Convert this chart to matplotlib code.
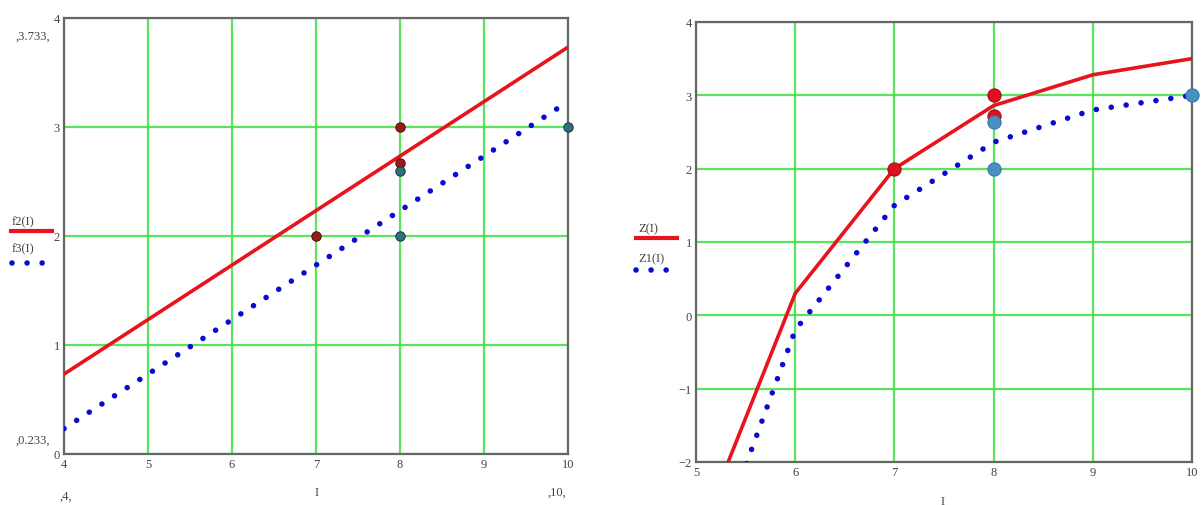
import matplotlib.pyplot as plt
from matplotlib.lines import Line2D

# --- left chart: f2(I), f3(I)
I_left = [4, 10]
f2 = [0.733, 3.733]
f3 = [0.233, 3.233]
red_pts_x = [7, 8, 8]
red_pts_y = [2, 3, 2.667]
teal_pts_x = [8, 8, 10]
teal_pts_y = [2.6, 2, 3]

# --- right chart: Z(I), Z1(I)
I_right = [5, 6, 7, 8, 9, 10]
Z = [-3.1, 0.3, 2.0, 2.86, 3.28, 3.5]
Z1 = [-3.9, -0.2, 1.5, 2.36, 2.8, 3.0]
zred_x = [7, 8, 8]
zred_y = [2, 3, 2.72]
zblue_x = [8, 8, 10]
zblue_y = [2.63, 2, 3]

plt.rcParams['font.family'] = ['Liberation Serif', 'DejaVu Serif']

grid_col = '#3ee03e'
red = '#e8141c'
blue = '#0a0ad2'
dots = (0, (0.01, 2.7))

fig = plt.figure(figsize=(12.03, 5.06), dpi=100)
ax1 = fig.add_axes([0.0532, 0.1008, 0.419, 0.8617])
ax2 = fig.add_axes([0.5786, 0.0850, 0.4123, 0.8696])


def style(ax, xlim, ylim, xticks, yticks):
    ax.set_xlim(*xlim)
    ax.set_ylim(*ylim)
    ax.set_xticks(xticks)
    ax.set_yticks(yticks)
    ax.grid(True, color=grid_col, lw=1.6, alpha=0.85)
    ax.set_axisbelow(True)
    ax.tick_params(length=0, labelsize=9, labelcolor='#444', pad=3)
    for s in ax.spines.values():
        s.set_color('#666')
        s.set_linewidth(1.6)


style(ax1, (4, 10), (0, 4), range(4, 11), range(0, 5))
ax1.plot(I_left, f2, color=red, lw=2.6, zorder=3)
ax1.plot(I_left, f3, color=blue, lw=4.0, linestyle=dots,
         dash_capstyle='round', zorder=3)
ax1.scatter(red_pts_x, red_pts_y, s=45, color='#9a1a1a', edgecolor='#5a1010',
            lw=0.8, zorder=4)
ax1.scatter(teal_pts_x, teal_pts_y, s=45, color='#2e6f80', edgecolor='#1a3d48',
            lw=0.8, zorder=4, clip_on=False)

style(ax2, (5, 10), (-2, 4), range(5, 11), range(-2, 5))
ax2.set_yticklabels(['\u22122', '\u22121', '0', '1', '2', '3', '4'])
ax2.plot(I_right, Z, color=red, lw=2.6, zorder=3)
ax2.plot(I_right, Z1, color=blue, lw=4.0, linestyle=dots,
         dash_capstyle='round', zorder=3)
ax2.scatter(zred_x, zred_y, s=90, color='#e01020', edgecolor='#a01018',
            lw=0.8, zorder=4)
ax2.scatter(zblue_x, zblue_y, s=90, color='#4a8fc4', edgecolor='#3a78a8',
            lw=0.8, zorder=4, clip_on=False)

# Mathcad style range labels and legends
txt = dict(fontsize=9, color='#444', transform=fig.transFigure)
fig.text(15 / 1203, 1 - 40 / 506, ',3.733,', **txt)
fig.text(15 / 1203, 1 - 444 / 506, ',0.233,', **txt)
fig.text(60 / 1203, 1 - 500 / 506, ',4,', **txt)
fig.text(315 / 1203, 1 - 496 / 506, 'I', **txt)
fig.text(547 / 1203, 1 - 496 / 506, ',10,', **txt)
fig.text(941 / 1203, 1 - 505 / 506, 'I', **txt)

fig.text(12 / 1203, 1 - 225 / 506, 'f2(I)', **txt)
fig.text(12 / 1203, 1 - 252 / 506, 'f3(I)', **txt)
fig.text(638 / 1203, 1 - 232 / 506, 'Z(I)', **txt)
fig.text(638 / 1203, 1 - 262 / 506, 'Z1(I)', **txt)

fig.add_artist(Line2D([11 / 1203, 52 / 1203], [1 - 232 / 506] * 2,
                      color=red, lw=3, transform=fig.transFigure))
fig.add_artist(Line2D([12 / 1203, 52 / 1203], [1 - 264 / 506] * 2,
                      color=blue, lw=4.0, linestyle=dots, dash_capstyle='round',
                      transform=fig.transFigure))
fig.add_artist(Line2D([636 / 1203, 677 / 1203], [1 - 239 / 506] * 2,
                      color=red, lw=3, transform=fig.transFigure))
fig.add_artist(Line2D([636 / 1203, 678 / 1203], [1 - 271 / 506] * 2,
                      color=blue, lw=4.0, linestyle=dots, dash_capstyle='round',
                      transform=fig.transFigure))

fig.savefig('out.png', dpi=100)
